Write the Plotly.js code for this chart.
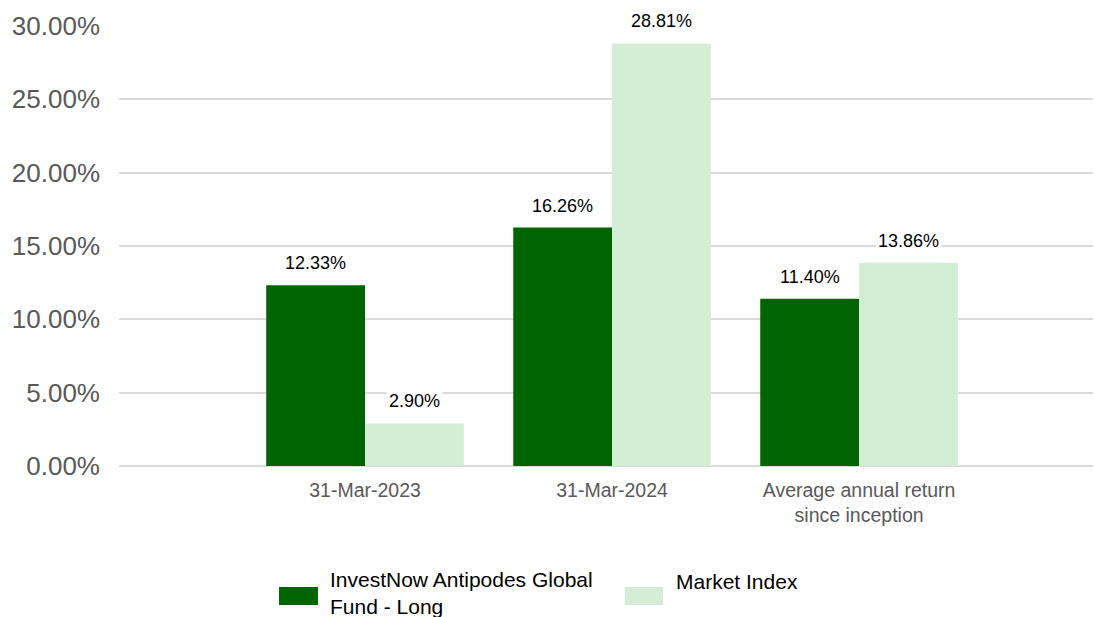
<!DOCTYPE html>
<html>
<head>
<meta charset="utf-8">
<script src="https://cdn.plot.ly/plotly-3.0.1.min.js"></script>
<style>html,body{margin:0;padding:0;background:#fff;}#chart{width:1094px;height:617px;}</style>
</head>
<body>
<div id="chart"></div>
<script>
const categories = ["31-Mar-2023", "31-Mar-2024", "Average annual return<br>since inception"];
const fundName = "InvestNow Antipodes Global<br>Fund - Long";
const indexName = "Market Index";
const fundValues = [12.33, 16.26, 11.40];
const indexValues = [2.90, 28.81, 13.86];
const yTickValues = [0, 5, 10, 15, 20, 25, 30];
const yTickLabels = ["0.00%", "5.00%", "10.00%", "15.00%", "20.00%", "25.00%", "30.00%"];

const darkGreen = "#006400";
const lightGreen = "#d3eed4";
const font = "Liberation Sans, Arial, sans-serif";

const traces = [
  {type: "bar", name: fundName, x: categories, y: fundValues, marker: {color: darkGreen}, hoverinfo: "none"},
  {type: "bar", name: indexName, x: categories, y: indexValues, marker: {color: lightGreen}, hoverinfo: "none"}
];

const annotations = [];
const offset = 49.5;
[[fundValues, -offset], [indexValues, offset]].forEach(([vals, sh]) => {
  vals.forEach((v, i) => {
    annotations.push({
      x: categories[i], y: v, xref: "x", yref: "y",
      text: v.toFixed(2) + "%", showarrow: false,
      xshift: sh, yshift: 22, yanchor: "middle",
      font: {family: font, size: 18, color: "#000"},
      bgcolor: "#fff", borderpad: 2
    });
  });
});

// custom legend
const px = p => (p - 119) / 974;
const py = p => (466 - p) / 440;
const shapes = [
  {type: "rect", xref: "paper", yref: "paper", x0: px(279), x1: px(318), y0: py(605), y1: py(587), fillcolor: darkGreen, line: {width: 0}},
  {type: "rect", xref: "paper", yref: "paper", x0: px(625), x1: px(663), y0: py(605), y1: py(587), fillcolor: lightGreen, line: {width: 0}}
];
annotations.push(
  {xref: "paper", yref: "paper", x: px(328), y: py(593), xanchor: "left", yanchor: "middle", align: "left",
   text: fundName, showarrow: false, font: {family: font, size: 21, color: "#000"}},
  {xref: "paper", yref: "paper", x: px(674), y: py(581), xanchor: "left", yanchor: "middle", align: "left",
   text: indexName, showarrow: false, font: {family: font, size: 21, color: "#000"}}
);

const layout = {
  width: 1094, height: 617,
  margin: {l: 119, r: 1, t: 26, b: 151, pad: 0},
  paper_bgcolor: "#fff", plot_bgcolor: "#fff",
  barmode: "group", bargap: 0.2, bargroupgap: 0,
  showlegend: false,
  xaxis: {
    type: "category", range: [-0.996, 2.947],
    showgrid: false, zeroline: false, showline: false,
    ticks: "", ticklabelstandoff: 10,
    tickfont: {family: font, size: 19.5, color: "#595959"}
  },
  yaxis: {
    range: [0, 30], tickvals: yTickValues, ticktext: yTickLabels,
    showgrid: true, gridcolor: "#d9d9d9", gridwidth: 2,
    zeroline: true, zerolinecolor: "#d9d9d9", zerolinewidth: 2,
    showline: false, ticks: "", ticklabelstandoff: 18,
    tickfont: {family: font, size: 26, color: "#595959"}
  },
  annotations: annotations,
  shapes: shapes
};

Plotly.newPlot("chart", traces, layout, {displayModeBar: false, staticPlot: true});
</script>
</body>
</html>
